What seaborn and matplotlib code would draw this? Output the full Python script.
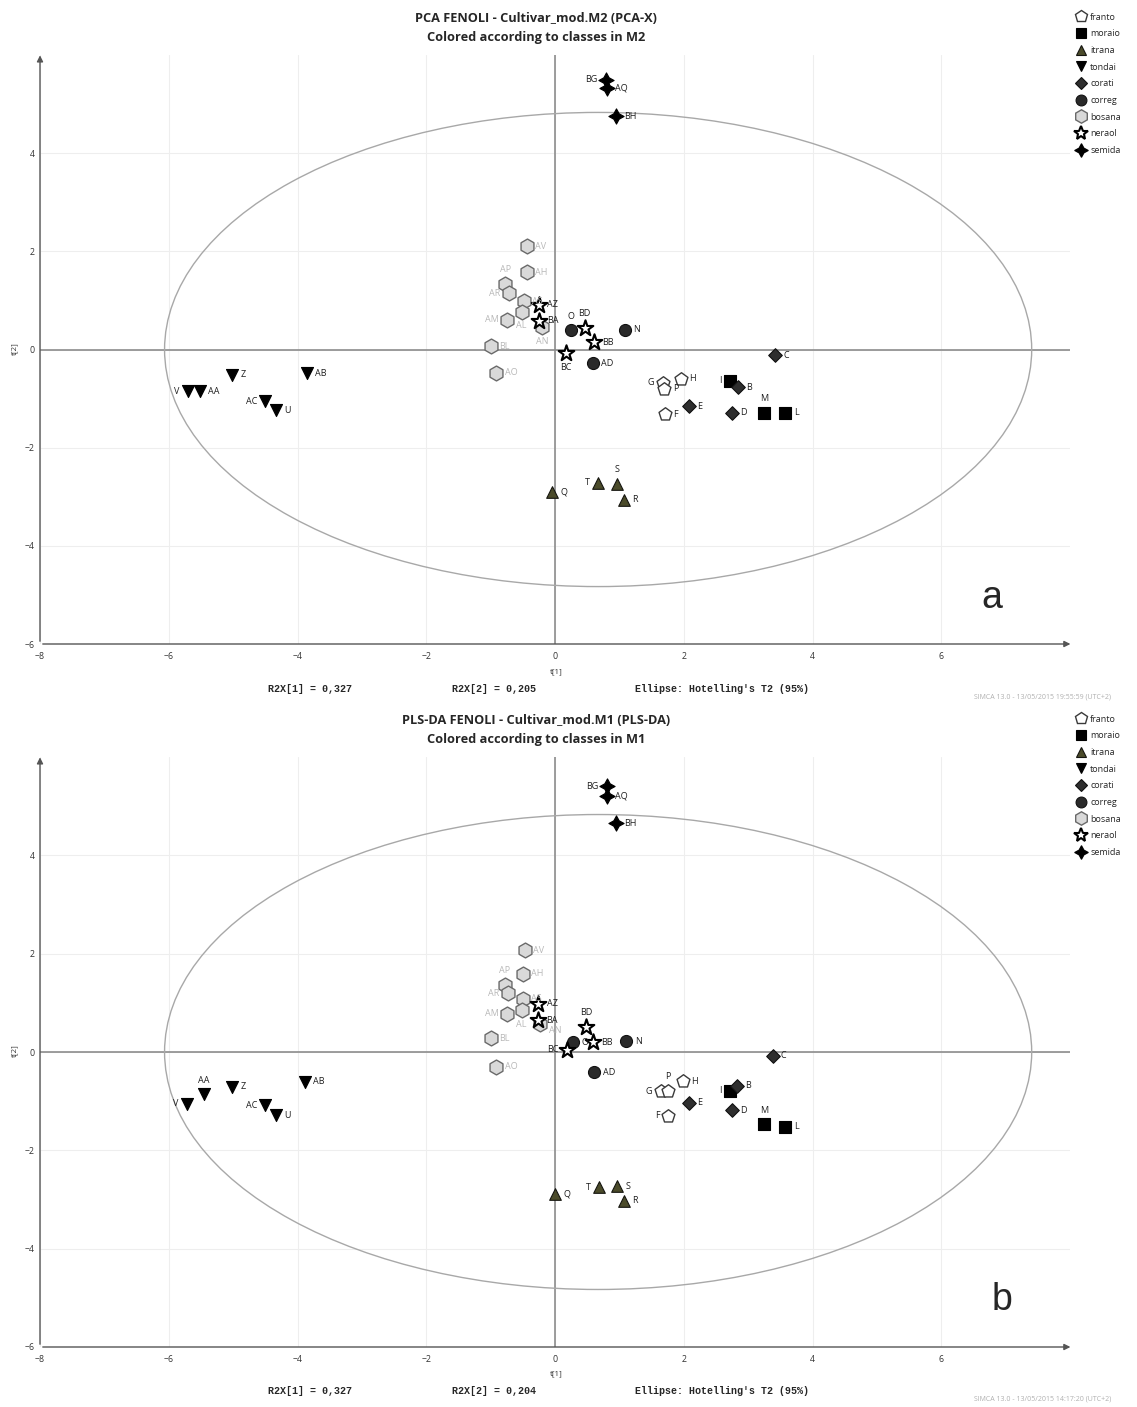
import numpy as np
import pandas as pd
import matplotlib
matplotlib.use('Agg')
import matplotlib.pyplot as plt
import seaborn as sns
from matplotlib.patches import Ellipse
from matplotlib.lines import Line2D

# ---------------- data ----------------
class_order = ['franto', 'moraio', 'itrana', 'tondai', 'corati', 'correg', 'bosana', 'neraol', 'semida']

names = ['G', 'P', 'H', 'F', 'I', 'M', 'L', 'Q', 'T', 'S', 'R',
         'V', 'AA', 'Z', 'AC', 'U', 'AB', 'C', 'B', 'E', 'D',
         'O', 'N', 'AD', 'AV', 'AH', 'AP', 'AR', 'AS', 'AL', 'AM', 'AN', 'BL', 'AO',
         'AZ', 'BA', 'BD', 'BB', 'BC', 'BG', 'AQ', 'BH']
classes = (['franto'] * 4 + ['moraio'] * 3 + ['itrana'] * 4 + ['tondai'] * 6 +
           ['corati'] * 4 + ['correg'] * 3 + ['bosana'] * 10 + ['neraol'] * 5 + ['semida'] * 3)

# panel a (PCA)
t1_a = [1.67, 1.70, 1.95, 1.71, 2.72, 3.25, 3.58, -0.04, 0.67, 0.96, 1.07,
        -5.70, -5.52, -5.02, -4.50, -4.34, -3.86, 3.42, 2.84, 2.08, 2.75,
        0.25, 1.08, 0.59, -0.44, -0.44, -0.77, -0.72, -0.48, -0.52, -0.74, -0.20, -0.99, -0.91,
        -0.25, -0.25, 0.46, 0.60, 0.17, 0.79, 0.81, 0.95]
t2_a = [-0.68, -0.80, -0.60, -1.32, -0.64, -1.29, -1.29, -2.91, -2.71, -2.74, -3.06,
        -0.85, -0.85, -0.51, -1.05, -1.24, -0.48, -0.12, -0.77, -1.16, -1.29,
        0.39, 0.40, -0.28, 2.10, 1.57, 1.33, 1.15, 0.98, 0.77, 0.61, 0.45, 0.07, -0.47,
        0.91, 0.59, 0.44, 0.15, -0.07, 5.50, 5.33, 4.75]

# panel b (PLS-DA)
t1_b = [1.64, 1.75, 1.99, 1.75, 2.72, 3.25, 3.58, 0.00, 0.68, 0.96, 1.07,
        -5.72, -5.46, -5.02, -4.50, -4.34, -3.89, 3.38, 2.82, 2.08, 2.75,
        0.28, 1.11, 0.61, -0.47, -0.50, -0.78, -0.73, -0.50, -0.52, -0.75, -0.23, -0.99, -0.91,
        -0.26, -0.26, 0.48, 0.59, 0.18, 0.80, 0.80, 0.95]
t2_b = [-0.80, -0.79, -0.59, -1.30, -0.79, -1.47, -1.52, -2.89, -2.75, -2.73, -3.03,
        -1.05, -0.86, -0.71, -1.08, -1.29, -0.60, -0.08, -0.69, -1.03, -1.18,
        0.20, 0.22, -0.41, 2.07, 1.59, 1.37, 1.19, 1.08, 0.85, 0.78, 0.57, 0.28, -0.30,
        0.98, 0.65, 0.51, 0.20, 0.05, 5.41, 5.20, 4.65]

titles_a = ['PCA FENOLI - Cultivar_mod.M2 (PCA-X)', 'Colored according to classes in M2']
titles_b = ['PLS-DA FENOLI - Cultivar_mod.M1 (PLS-DA)', 'Colored according to classes in M1']
r2x_a = ['0,327', '0,205']
r2x_b = ['0,327', '0,204']
stamp_a = 'SIMCA 13.0 - 13/05/2015 19:55:59 (UTC+2)'
stamp_b = 'SIMCA 13.0 - 13/05/2015 14:17:20 (UTC+2)'
x_ticks = [-8, -6, -4, -2, 0, 2, 4, 6]
y_ticks = [-6, -4, -2, 0, 2, 4]

# label placement (style)
lab_a = {'BG': 'l', 'AP': 'a', 'AR': 'l', 'AL': 'b', 'AM': 'l', 'AN': 'b', 'BD': 'a', 'O': 'a',
         'BC': 'b', 'G': 'l', 'I': 'l', 'M': 'a', 'V': 'l', 'AC': 'l', 'T': 'l', 'S': 'a'}
lab_b = {'BG': 'l', 'AP': 'a', 'AR': 'l', 'AL': 'b', 'AM': 'l', 'AN': 'rb', 'BD': 'a', 'BC': 'l',
         'P': 'a', 'G': 'l', 'F': 'l', 'I': 'l', 'M': 'a', 'V': 'l', 'AA': 'a', 'AC': 'l', 'T': 'l'}

# ---------------- style ----------------
sns.set_style('white')
plt.rcParams['font.family'] = ['Open Sans', 'DejaVu Sans']

W, H = 1137, 1407
fig = plt.figure(figsize=(W / 100, H / 100), dpi=100)

def fx(px):
    return px / W

def fy(py):
    return 1 - py / H

mstyle = {
    'franto': dict(marker='p', fc='white', ec='#3a3a3a', s=95, lw=1.0),
    'moraio': dict(marker='s', fc='black', ec='black', s=70, lw=0.8),
    'itrana': dict(marker='^', fc='#4b4b2a', ec='#151510', s=70, lw=0.8),
    'tondai': dict(marker='v', fc='black', ec='black', s=75, lw=0.8),
    'corati': dict(marker='D', fc='#2e2e2e', ec='#111111', s=48, lw=0.8),
    'correg': dict(marker='o', fc='#2a2a2a', ec='#111111', s=75, lw=0.8),
    'bosana': dict(marker='h', fc='#d9d9d9', ec='#6a6a6a', s=115, lw=1.0),
    'neraol': dict(marker='*', fc='white', ec='black', s=140, lw=1.5),
    'semida': dict(marker=(4, 1, 0), fc='black', ec='black', s=120, lw=0.8),
}
offs = {'r': ((6, 0), 'left', 'center'), 'l': ((-6, 0), 'right', 'center'),
        'a': ((0, 7), 'center', 'bottom'), 'b': ((0, -7), 'center', 'top'),
        'rb': ((6, -5), 'left', 'center')}


def panel(rect, t1, t2, labpos, titles, r2x, stamp, letter, letter_x, top_px):
    ax = fig.add_axes(rect)
    df = pd.DataFrame({'name': names, 'cls': classes, 't1': t1, 't2': t2})
    ax.set_xlim(-8, 8)
    ax.set_ylim(-6, 6)
    for s in ax.spines.values():
        s.set_visible(False)
    ax.set_xticks(x_ticks)
    ax.set_yticks(y_ticks)
    ax.grid(True, color='#eeeeee', lw=0.8)
    ax.tick_params(axis='both', labelsize=6.3, colors='#333333', length=0)
    ax.tick_params(axis='x', pad=6)
    ax.tick_params(axis='y', pad=4)
    ax.axhline(0, color='#8c8c8c', lw=1.2, zorder=1)
    ax.axvline(0, color='#8c8c8c', lw=1.2, zorder=1)
    ax.annotate('', xy=(8.05, -6), xytext=(-8, -6), annotation_clip=False,
                arrowprops=dict(arrowstyle='-|>', color='#555555', lw=1.0, mutation_scale=9))
    ax.annotate('', xy=(-8, 6.05), xytext=(-8, -6), annotation_clip=False,
                arrowprops=dict(arrowstyle='-|>', color='#555555', lw=1.0, mutation_scale=9))
    ax.add_patch(Ellipse((0.67, 0), 13.47, 9.66, fill=False, ec='#a8a8a8', lw=1.0, zorder=1))
    for c in class_order:
        st = mstyle[c]
        sub = df[df['cls'] == c]
        sns.scatterplot(data=sub, x='t1', y='t2', marker=st['marker'], color=st['fc'],
                        edgecolor=st['ec'], linewidth=st['lw'], s=st['s'], ax=ax,
                        zorder=3, legend=False)
    for _, r in df.iterrows():
        (dx, dy), ha, va = offs[labpos.get(r['name'], 'r')]
        col = '#b8b8b8' if r['cls'] == 'bosana' else '#1e1e1e'
        ax.annotate(r['name'], (r['t1'], r['t2']), xytext=(dx, dy), textcoords='offset points',
                    ha=ha, va=va, fontsize=6.5, color=col, zorder=4)
    ax.set_xlabel('')
    ax.set_ylabel('')
    # axis titles
    fig.text(fx(556), fy(top_px + 617), 't[1]', fontsize=5.8, ha='center', va='center', color='#333')
    fig.text(fx(15), fy(top_px + 294), 't[2]', fontsize=5.8, ha='center', va='center',
             rotation=90, color='#333')
    # titles
    fig.text(fx(536), fy(top_px - 37), titles[0], fontsize=9.2, weight='bold', ha='center', va='center')
    fig.text(fx(536), fy(top_px - 17), titles[1], fontsize=9.2, weight='bold', ha='center', va='center')
    # footer
    mono = ['Liberation Mono', 'DejaVu Sans Mono']
    fig.text(fx(268), fy(top_px + 634), 'R2X[1] = ' + r2x[0], family=mono, fontsize=7.2,
             weight='bold', va='center')
    fig.text(fx(452), fy(top_px + 634), 'R2X[2] = ' + r2x[1], family=mono, fontsize=7.2,
             weight='bold', va='center')
    fig.text(fx(635), fy(top_px + 634), "Ellipse: Hotelling's T2 (95%)", family=mono, fontsize=7.2,
             weight='bold', va='center')
    fig.text(fx(974), fy(top_px + 642), stamp, fontsize=5.0, color='#b0b0b0', va='center')
    # big letter
    fig.text(fx(letter_x), fy(top_px + 543), letter, fontsize=27, ha='center', va='center',
             family=['Liberation Sans', 'DejaVu Sans'])
    # legend
    handles = []
    for c in class_order:
        st = mstyle[c]
        handles.append(Line2D([], [], ls='none', marker=st['marker'], markerfacecolor=st['fc'],
                              markeredgecolor=st['ec'], markeredgewidth=st['lw'],
                              markersize=np.sqrt(st['s']) * 0.9, label=c))
    fig.legend(handles=handles, loc='upper left', bbox_to_anchor=(fx(1072), fy(top_px - 47)),
               frameon=False, fontsize=6.5, handlelength=1.0, handletextpad=0.5,
               labelspacing=0.85, borderpad=0)
    return ax


panel([fx(40), fy(644), fx(1070) - fx(40), fy(55) - fy(644)], t1_a, t2_a, lab_a,
      titles_a, r2x_a, stamp_a, 'a', 992, 55)
panel([fx(40), fy(1347), fx(1070) - fx(40), fy(757) - fy(1347)], t1_b, t2_b, lab_b,
      titles_b, r2x_b, stamp_b, 'b', 1002, 757)

fig.savefig('out.png', dpi=100)
